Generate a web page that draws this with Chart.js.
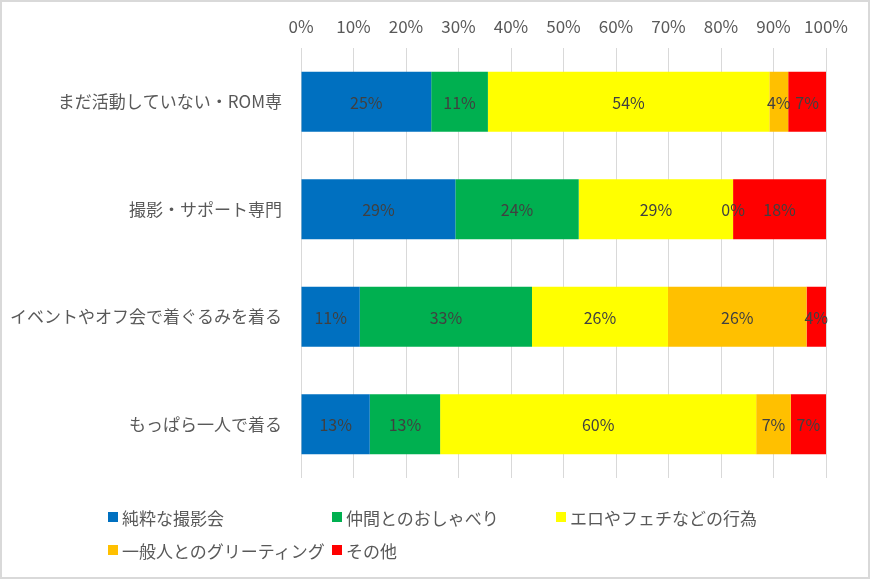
<!DOCTYPE html>
<html><head><meta charset="utf-8">
<script src="https://cdn.jsdelivr.net/npm/chart.js@4/dist/chart.umd.min.js"></script>
<style>
body{margin:0;background:#fff}
#wrap{position:relative;width:870px;height:579px;overflow:hidden;background:#fff}
canvas{position:absolute;left:0;top:0}
#frame{position:absolute;left:0;top:0;width:870px;height:579px;box-sizing:border-box;border:2px solid #d9d9d9;pointer-events:none}
.lg{position:absolute;font:17px 'Noto Sans CJK JP',sans-serif;color:#595959;white-space:nowrap;display:flex;align-items:center;height:20px}
.lg i{display:inline-block;width:10px;height:10px;margin-right:4px}
</style></head><body>
<div id="wrap"><canvas id="c" width="870" height="579"></canvas><div id="legend"></div><div id="frame"></div></div>
<script>
const categories = ['まだ活動していない・ROM専', '撮影・サポート専門', 'イベントやオフ会で着ぐるみを着る', 'もっぱら一人で着る'];
const seriesNames = ['純粋な撮影会', '仲間とのおしゃべり', 'エロやフェチなどの行為', '一般人とのグリーティング', 'その他'];
const pureShoot = [24.8, 29.4, 11.2, 13.1];
const chatting = [10.8, 23.5, 32.8, 13.4];
const erotic = [53.6, 29.4, 25.9, 60.2];
const greeting = [3.6, 0, 26.4, 6.6];
const other = [7.2, 17.7, 3.7, 6.7];
const xTicks = [0, 10, 20, 30, 40, 50, 60, 70, 80, 90, 100];

const colors = ['#0070C0', '#00B050', '#FFFF00', '#FFC000', '#FF0000'];
const seriesData = [pureShoot, chatting, erotic, greeting, other];
const FONT = "'Noto Sans CJK JP', 'Noto Sans', sans-serif";

const labelPlugin = {
  id: 'barLabels',
  afterDatasetsDraw(chart) {
    const ctx = chart.ctx;
    ctx.save();
    ctx.font = '16px ' + FONT;
    ctx.fillStyle = '#404040';
    ctx.textAlign = 'center';
    ctx.textBaseline = 'middle';
    chart.data.datasets.forEach((ds, di) => {
      const meta = chart.getDatasetMeta(di);
      meta.data.forEach((el, i) => {
        const v = ds.data[i];
        ctx.fillText(Math.round(v) + '%', (el.x + el.base) / 2, el.y + 1);
      });
    });
    ctx.restore();
  }
};

new Chart(document.getElementById('c'), {
  type: 'bar',
  data: {
    labels: categories,
    datasets: seriesNames.map((n, k) => ({
      label: n,
      data: seriesData[k],
      backgroundColor: colors[k],
      borderWidth: 0,
      categoryPercentage: 1,
      barPercentage: 0.56
    }))
  },
  options: {
    indexAxis: 'y',
    responsive: false,
    animation: false,
    layout: { padding: { left: 0, right: 44, top: 0, bottom: 101 } },
    plugins: { legend: { display: false }, tooltip: { enabled: false } },
    scales: {
      x: {
        stacked: true, min: 0, max: 100, position: 'top',
        afterBuildTicks: s => { s.ticks = xTicks.map(v => ({ value: v })); },
        ticks: { callback: v => v + '%', color: '#595959', font: { family: FONT, size: 17 }, padding: 11, maxRotation: 0 },
        grid: { color: '#d9d9d9', drawTicks: false },
        border: { display: false },
        afterFit: s => { s.height = 48; }
      },
      y: {
        stacked: true,
        ticks: { color: '#595959', font: { family: FONT, size: 17 }, padding: 19 },
        grid: { display: false, drawTicks: false },
        border: { display: false },
        afterFit: s => { s.width = 301; }
      }
    }
  },
  plugins: [labelPlugin]
});

const legendPos = [[108, 507], [332, 507], [556, 507], [108, 540], [332, 540]];
const lg = document.getElementById('legend');
seriesNames.forEach((n, k) => {
  const d = document.createElement('div');
  d.className = 'lg';
  d.style.left = legendPos[k][0] + 'px';
  d.style.top = legendPos[k][1] + 'px';
  d.innerHTML = '<i style="background:' + colors[k] + '"></i><span></span>';
  d.querySelector('span').textContent = n;
  lg.appendChild(d);
});
</script>
</body></html>
